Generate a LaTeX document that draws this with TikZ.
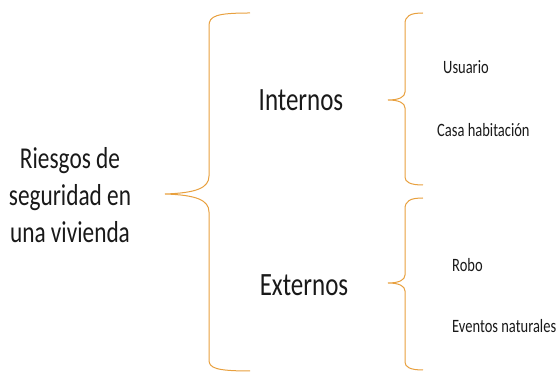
\documentclass[tikz,border=0pt]{standalone}
\usepackage{fontspec}
\setmainfont{Carlito}
\usetikzlibrary{positioning}
\definecolor{bracecol}{RGB}{232,160,62}
\definecolor{txtcol}{RGB}{25,25,25}

\begin{document}
\begin{tikzpicture}[x=1pt,y=1pt,
      brc/.style={draw=bracecol,line width=1pt},
      label/.style={inner sep=0pt,text=txtcol,yscale=1.3,transform shape},
      big/.style={label,font=\fontsize{25}{30}\selectfont},
      root/.style={label,align=center,font=\fontsize{23.3}{28.5}\selectfont},
      leaf/.style={label,anchor=west,font=\fontsize{14.5}{17}\selectfont}
      ]
      \useasboundingbox (0,0) rectangle (558,374);
      % texts
      \node (risk) [root] at (70,179) {Riesgos de\\seguridad en\\una vivienda};
      \node (int) [big] at (301,274) {Internos};
      \node (ext) [big] at (304,89) {Externos};
      \node (usr) [leaf] at (443,307) {Usuario};
      \node (casa) [leaf] at (437,244) {Casa habitación};
      \node (robo) [leaf] at (452,109) {Robo};
      \node (nat) [leaf] at (452,48) {Eventos naturales};
      % braces
      \coordinate (t0) at (165,180);
      \coordinate (t1) at (388,274);
      \coordinate (t2) at (388,91);
      \draw[brc] (250,361) .. controls (216,361) and (209,358) .. (209,348) -- (209,198)
        .. controls (209,186) and (196,181) .. (t0)
        .. controls (196,179) and (209,174) .. (209,162) -- (209,14)
        .. controls (209,6) and (216,3) .. (250,3);
      \draw[brc] (423,361) .. controls (410,361) and (405,358) .. (405,350) -- (405,282)
        .. controls (405,277) and (399,274) .. (t1)
        .. controls (399,274) and (405,271) .. (405,266) -- (405,197)
        .. controls (405,192) and (410,189) .. (423,189);
      \draw[brc] (423,176) .. controls (410,176) and (405,173) .. (405,165) -- (405,99)
        .. controls (405,94) and (399,91) .. (t2)
        .. controls (399,91) and (405,88) .. (405,83) -- (405,12)
        .. controls (405,7) and (410,4) .. (423,4);
    \end{tikzpicture}
\end{document}
